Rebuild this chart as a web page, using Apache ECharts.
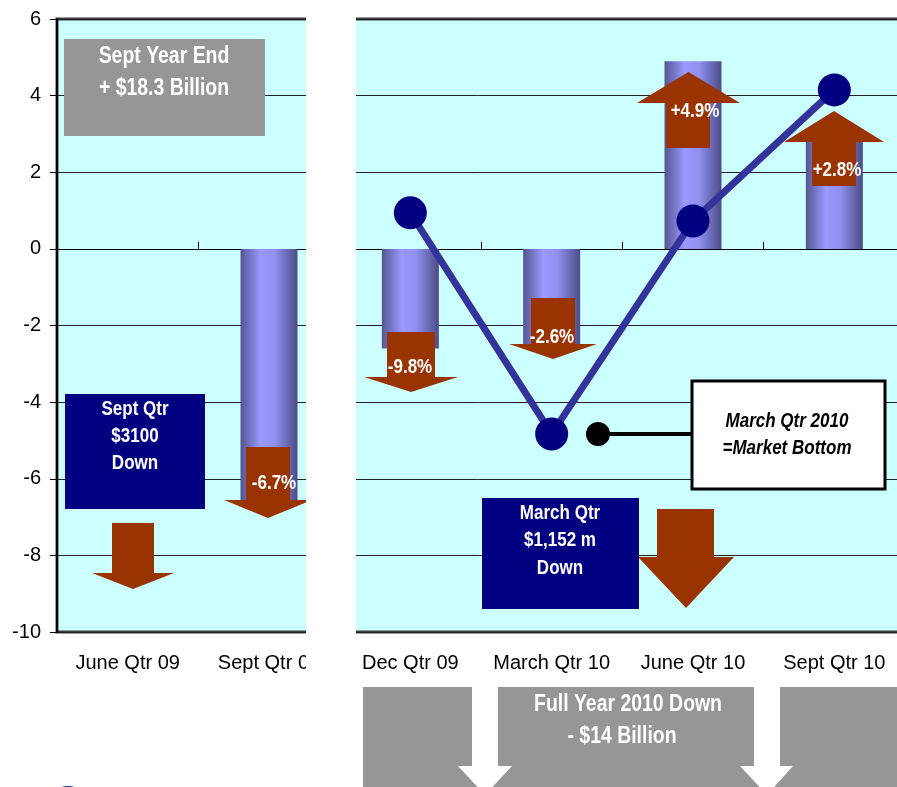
<!DOCTYPE html>
<html>
<head>
<meta charset="utf-8">
<script src="https://cdn.jsdelivr.net/npm/echarts@6/dist/echarts.min.js"></script>
<style>html,body{margin:0;padding:0;background:#fff;}#c{width:897px;height:787px;}</style>
</head>
<body>
<div id="c"></div>
<script>
// ---- data ----
var categories = ['June Qtr 09', 'Sept Qtr 09', 'Dec Qtr 09', 'March Qtr 10', 'June Qtr 10', 'Sept Qtr 10'];
var barValues = [null, -6.6, -2.6, -2.5, 4.9, 2.8];
var lineValues = [null, null, 0.94, -4.83, 0.73, 4.15];
var yTicks = { min: -10, max: 6, interval: 2 };
var arrowLabels = ['-6.7%', '-9.8%', '-2.6%', '+4.9%', '+2.8%'];

var FONT = "'Liberation Sans Narrow','Arial Narrow','Liberation Sans',Arial,sans-serif";
var BROWN = '#993300', NAVY = '#000080', GRAY = '#969696';

function downArrow(sx0, sx1, top, headY, hx0, hx1, tipY, z) {
  return { type: 'polygon', z: z || 10, shape: { points: [[sx0, top], [sx1, top], [sx1, headY], [hx1, headY], [(hx0 + hx1) / 2, tipY], [hx0, headY], [sx0, headY]] }, style: { fill: BROWN } };
}
function upArrow(sx0, sx1, bottom, baseY, hx0, hx1, tipY, z) {
  return { type: 'polygon', z: z || 10, shape: { points: [[sx0, bottom], [sx1, bottom], [sx1, baseY], [hx1, baseY], [(hx0 + hx1) / 2, tipY], [hx0, baseY], [sx0, baseY]] }, style: { fill: BROWN } };
}
function txt(t, x, y, size, color, extra, z, sx) {
  return { type: 'text', z: z || 12, x: x, y: y, scaleX: sx || 0.81, scaleY: 1,
    style: { text: t, x: 0, y: 0, fill: color, font: (extra || 'bold') + ' ' + size + 'px ' + FONT, textAlign: 'center', textVerticalAlign: 'middle' } };
}
function rect(x, y, w, h, fill, z, stroke, lw) {
  return { type: 'rect', z: z || 10, shape: { x: x, y: y, width: w, height: h }, style: { fill: fill, stroke: stroke || null, lineWidth: lw || 0 } };
}

var graphics = [
  // Sept Year End box
  rect(64, 39, 201, 97, GRAY, 10),
  txt('Sept Year End', 164, 56, 24, '#fff'),
  txt('+ $18.3 Billion', 164, 88, 24, '#fff'),
  // Sept Qtr box + arrow
  rect(65, 394, 140, 115, NAVY, 10),
  txt('Sept Qtr', 135, 409, 21, '#fff'),
  txt('$3100', 135, 436, 21, '#fff'),
  txt('Down', 135, 463, 21, '#fff'),
  downArrow(112, 154, 523, 573, 92, 174, 589),
  // bar arrows
  downArrow(246, 290, 447, 500, 224, 312, 518),
  txt(arrowLabels[0], 274, 483, 21, '#fff'),
  downArrow(387, 435, 332, 377, 364, 458, 392),
  txt(arrowLabels[1], 410, 367, 21, '#fff'),
  downArrow(531, 575, 298, 344, 509, 597, 359),
  txt(arrowLabels[2], 552, 337, 21, '#fff'),
  upArrow(666, 710, 148, 103, 637, 740, 72),
  txt(arrowLabels[3], 695, 111, 21, '#fff'),
  upArrow(812, 856, 186, 142, 784, 884, 111),
  txt(arrowLabels[4], 837, 170, 21, '#fff'),
  // March Qtr box + big arrow
  rect(482, 498, 157, 111, NAVY, 10),
  txt('March Qtr', 560, 513, 21, '#fff'),
  txt('$1,152 m', 560, 540, 21, '#fff'),
  txt('Down', 560, 568, 21, '#fff'),
  downArrow(657, 714, 509, 557, 638, 734, 608),
  // callout
  { type: 'line', z: 10, shape: { x1: 598, y1: 434, x2: 692, y2: 434 }, style: { stroke: '#000', lineWidth: 4 } },
  { type: 'circle', z: 10, shape: { cx: 598, cy: 434, r: 12 }, style: { fill: '#000' } },
  rect(692, 381, 193, 108, '#fff', 10, '#000', 3),
  txt('March Qtr 2010', 787, 421, 21, '#000', 'italic bold'),
  txt('=Market Bottom', 787, 448, 21, '#000', 'italic bold'),
  // white gap
  rect(306, 0, 50, 787, '#fff', 100),
  // bottom band
  rect(363, 687, 534, 100, GRAY, 101),
  { type: 'polygon', z: 102, shape: { points: [[472, 687], [498, 687], [498, 766], [512, 766], [485, 795], [458, 766], [472, 766]] }, style: { fill: '#fff' } },
  { type: 'polygon', z: 102, shape: { points: [[754, 687], [780, 687], [780, 766], [793, 766], [767, 795], [740, 766], [754, 766]] }, style: { fill: '#fff' } },
  txt('Full Year 2010 Down', 628, 704, 24, '#fff', 'bold', 103),
  txt('- $14 Billion', 622, 736, 24, '#fff', 'bold', 103),
  // logo edge
  { type: 'ellipse', z: 5, shape: { cx: 68, cy: 808, rx: 22, ry: 22 }, style: { fill: '#1a2a8a' } }
];

var chart = echarts.init(document.getElementById('c'), null, { renderer: 'canvas' });
chart.setOption({
  animation: false,
  backgroundColor: '#fff',
  grid: { left: 57, top: 19, right: -8, bottom: 155, outerBoundsMode: 'none', show: true, backgroundColor: '#CCFFFF', borderColor: '#3c3c3c', borderWidth: 3, containLabel: false },
  xAxis: [
    { type: 'category', data: categories, position: 'bottom',
      axisLine: { show: false, onZero: false }, axisTick: { show: false },
      axisLabel: { interval: 0, fontSize: 20, color: '#000', fontFamily: 'Liberation Sans', margin: 21 } },
    { type: 'category', data: categories, position: 'top',
      axisLine: { show: true, onZero: true, lineStyle: { color: '#000', width: 1 } },
      axisTick: { show: true, length: 7, lineStyle: { color: '#000' } },
      axisLabel: { show: false } }
  ],
  yAxis: {
    type: 'value', min: yTicks.min, max: yTicks.max, interval: yTicks.interval,
    axisLine: { show: true, lineStyle: { color: '#000', width: 2 } },
    axisTick: { show: true, length: 7, lineStyle: { color: '#000' } },
    axisLabel: { fontSize: 20, color: '#000', fontFamily: 'Liberation Sans', margin: 16 },
    splitLine: { lineStyle: { color: '#222', width: 1 } }
  },
  series: [
    { type: 'bar', data: barValues, barWidth: 57, z: 2,
      itemStyle: { color: new echarts.graphic.LinearGradient(0, 0, 1, 0, [
        { offset: 0, color: '#555590' }, { offset: 0.35, color: '#9999FF' }, { offset: 0.6, color: '#9090F0' }, { offset: 1, color: '#4c4c86' }]) } },
    { type: 'line', data: lineValues, z: 20, symbol: 'circle', symbolSize: 33,
      itemStyle: { color: NAVY }, lineStyle: { color: '#333399', width: 7 } }
  ],
  graphic: graphics
});
</script>
</body>
</html>
